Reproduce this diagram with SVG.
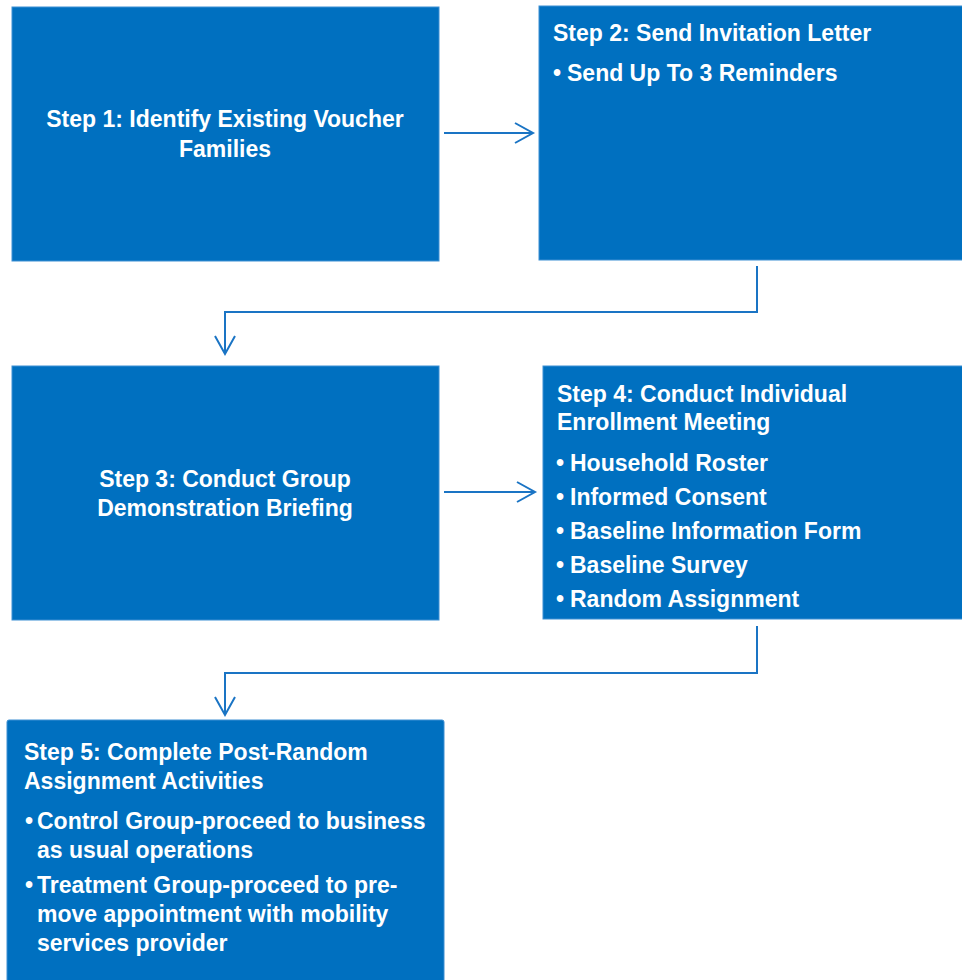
<svg xmlns="http://www.w3.org/2000/svg" width="962" height="980" viewBox="0 0 962 980">
<style>
.box{fill:#0070c0;stroke:#3d8fd3;stroke-width:1}
.t{font-family:"Liberation Sans",Arial,sans-serif;font-weight:bold;font-size:23px;fill:#ffffff}
.c{text-anchor:middle}
.conn{fill:none;stroke:#1a74c4;stroke-width:2}
</style>
<defs>
<marker id="chev" markerUnits="userSpaceOnUse" viewBox="0 0 22 24" refX="19" refY="12" markerWidth="22" markerHeight="24" orient="auto">
<path d="M1,2 L19,12 L1,22" fill="none" stroke="#1a74c4" stroke-width="2"/>
</marker>
</defs>
<rect x="0" y="0" width="962" height="980" fill="#ffffff"/>
<g id="connectors">
<path class="conn" d="M444,133 H533" marker-end="url(#chev)"/>
<path class="conn" d="M757,266 V312 H225 V354" marker-end="url(#chev)"/>
<path class="conn" d="M444,492 H535" marker-end="url(#chev)"/>
<path class="conn" d="M757,626 V673 H225 V715" marker-end="url(#chev)"/>
</g>
<g id="step1">
<rect class="box" x="12" y="7" width="427" height="254"/>
<text class="t c" x="225" y="127">Step 1: Identify Existing Voucher</text>
<text class="t c" x="225" y="157">Families</text>
</g>
<g id="step2">
<rect class="box" x="539" y="6" width="430" height="254"/>
<text class="t" x="553" y="41">Step 2: Send Invitation Letter</text>
<text class="t" x="553" y="81">•</text>
<text class="t" x="567" y="81">Send Up To 3 Reminders</text>
</g>
<g id="step3">
<rect class="box" x="12" y="366" width="427" height="254"/>
<text class="t c" x="225" y="487">Step 3: Conduct Group</text>
<text class="t c" x="225" y="516">Demonstration Briefing</text>
</g>
<g id="step4">
<rect class="box" x="543" y="366" width="425" height="253"/>
<text class="t" x="557" y="402">Step 4: Conduct Individual</text>
<text class="t" x="557" y="430">Enrollment Meeting</text>
<text class="t" x="556" y="471">•</text>
<text class="t" x="570" y="471">Household Roster</text>
<text class="t" x="556" y="505">•</text>
<text class="t" x="570" y="505">Informed Consent</text>
<text class="t" x="556" y="539">•</text>
<text class="t" x="570" y="539">Baseline Information Form</text>
<text class="t" x="556" y="573">•</text>
<text class="t" x="570" y="573">Baseline Survey</text>
<text class="t" x="556" y="607">•</text>
<text class="t" x="570" y="607">Random Assignment</text>
</g>
<g id="step5">
<rect class="box" x="7" y="720" width="437" height="270" rx="2"/>
<text class="t" x="24" y="760">Step 5: Complete Post-Random</text>
<text class="t" x="24" y="789">Assignment Activities</text>
<text class="t" x="25" y="829">•</text>
<text class="t" x="37" y="829">Control Group-proceed to business</text>
<text class="t" x="37" y="858">as usual operations</text>
<text class="t" x="25" y="893">•</text>
<text class="t" x="37" y="893">Treatment Group-proceed to pre-</text>
<text class="t" x="37" y="922">move appointment with mobility</text>
<text class="t" x="37" y="951">services provider</text>
</g>
</svg>
